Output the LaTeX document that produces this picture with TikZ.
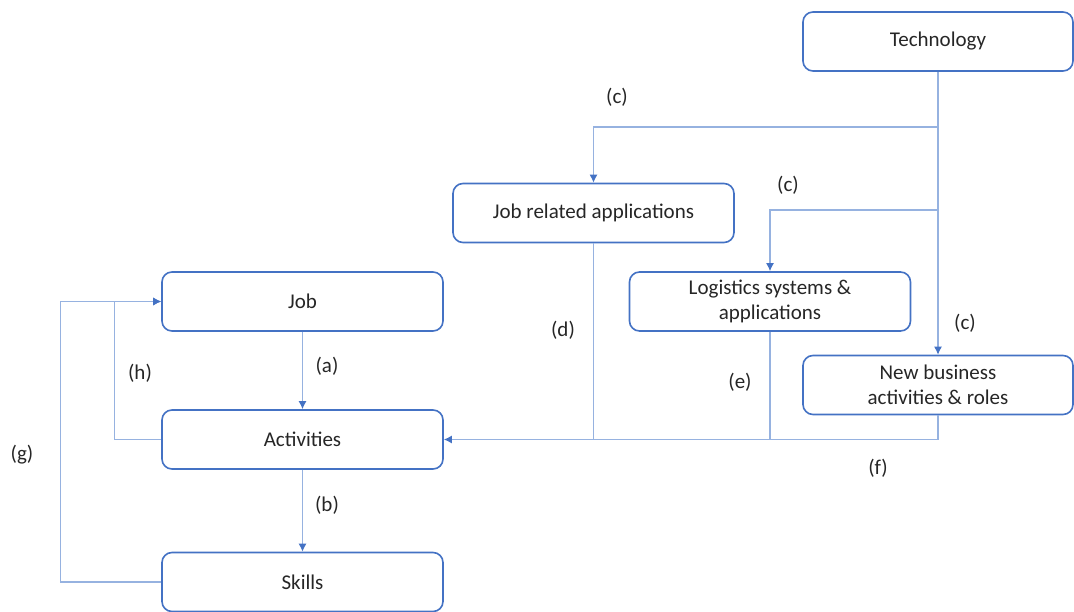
\documentclass[tikz,border=0pt]{standalone}
\usepackage{fontspec}
\setmainfont{Carlito}
\usetikzlibrary{arrows.meta, positioning}
\definecolor{boxblue}{RGB}{68,114,196}
\definecolor{lineblue}{RGB}{150,178,224}
\tikzset{
  box/.style = {draw=boxblue, line width=1.6pt, rounded corners=10pt, fill=white,
    minimum width=281pt, minimum height=59pt, align=center, text=black!85},
  link/.style = {draw=lineblue, line width=1.3pt},
  tip/.style = {-{Latex[length=8pt, width=8pt, color=boxblue]}},
  lbl/.style = {text=black!85}
}

\begin{document}
\begin{tikzpicture}[x=1pt, y=-1pt, font=\fontsize{21}{25}\selectfont]

  \useasboundingbox (0,0) rectangle (1074,612);

  %% Boxes

  % Technology side
  \node[box, minimum width=270pt] (tech) at (938,41.5) {Technology};
  \node[box] (jobapps) at (593.5,213) {Job related applications};
  \node[box] (logistics) at (770,301.5) {Logistics systems \&\\applications};
  \node[box, minimum width=270pt] (newbiz) at (938,385) {New business\\activities \& roles};

  % Job side
  \node[box] (job) at (302.5,301.5) {Job};
  \node[box] (activities) at (302.5,439.5) {Activities};
  \node[box] (skills) at (302.5,582) {Skills};

  % Splits on the technology line
  \coordinate (split1) at (938,127);
  \coordinate (split2) at (938,210);

  %% Connectors

  % (c)
  \draw[link, tip] (tech) -- (newbiz);
  \draw[link, tip] (split1) -| (jobapps);
  \draw[link, tip] (split2) -| (logistics);

  % (d), (e), (f)
  \draw[link, tip] (newbiz) |- (activities);
  \draw[link] (jobapps.south) -- (jobapps.south |- activities.east);
  \draw[link] (logistics.south) -- (logistics.south |- activities.east);

  % (a), (b)
  \draw[link, tip] (job) -- (activities);
  \draw[link, tip] (activities) -- (skills);

  % (h), (g)
  \draw[link, tip] (activities.west) -- ++(-47,0) |- (job.west);
  \draw[link, tip] (skills.west) -- ++(-101,0) |- (job.west);

  %% Labels
  \node[lbl] (lc1) at (617,97) {(c)};
  \node[lbl] (lc2) at (788,185) {(c)};
  \node[lbl] (lc3) at (965,323) {(c)};
  \node[lbl] (ld) at (563,330) {(d)};
  \node[lbl] (le) at (740,382) {(e)};
  \node[lbl] (lf) at (878,468) {(f)};
  \node[lbl] (la) at (327,366) {(a)};
  \node[lbl] (lb) at (327,505) {(b)};
  \node[lbl] (lh) at (140,373) {(h)};
  \node[lbl] (lg) at (22,455) {(g)};

\end{tikzpicture}
\end{document}
